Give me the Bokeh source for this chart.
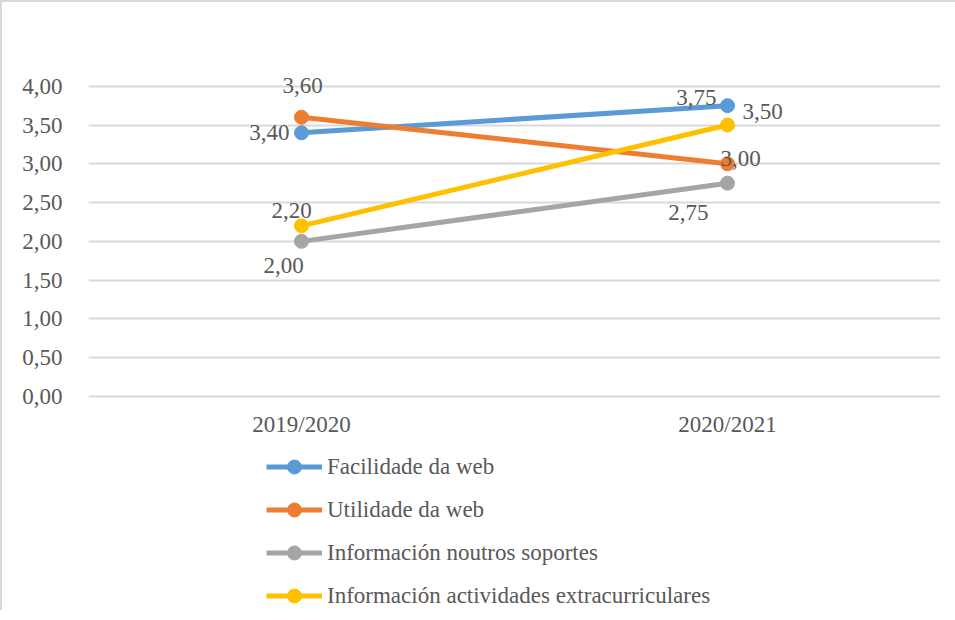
from bokeh.plotting import figure
from bokeh.models import Range1d, FactorRange, FixedTicker, Legend, LegendItem, ColumnDataSource
from bokeh.embed import file_html
from bokeh.resources import INLINE
from bokeh.core.properties import value

years = ["2019/2020", "2020/2021"]
facilidade = [3.40, 3.75]
utilidade = [3.60, 3.00]
noutros = [2.00, 2.75]
extracurriculares = [2.20, 3.50]
series_names = ["Facilidade da web", "Utilidade da web",
                "Información noutros soportes", "Información actividades extracurriculares"]
y_ticks = [0.0, 0.5, 1.0, 1.5, 2.0, 2.5, 3.0, 3.5, 4.0]
y_tick_labels = ["0,00", "0,50", "1,00", "1,50", "2,00", "2,50", "3,00", "3,50", "4,00"]

colors = ["#5B9BD5", "#ED7D31", "#A5A5A5", "#FFC000"]
FONT = "Liberation Serif"
FS = "23px"
TXT = "#595959"

# label placement (pixel offsets) per series, per year
label_style = [
    [dict(x_offset=-12, y_offset=0, align="right"), dict(x_offset=-11, y_offset=-8, align="right")],
    [dict(x_offset=1, y_offset=-32, align="center"), dict(x_offset=13, y_offset=-5, align="center")],
    [dict(x_offset=-18, y_offset=24, align="center"), dict(x_offset=-19, y_offset=29, align="right")],
    [dict(x_offset=-10, y_offset=-15, align="center"), dict(x_offset=15, y_offset=-14, align="left")],
]

# frame spans the whole chart area; the value axis occupies 0..4 of it,
# the legend sits in the lower part below the category axis
p = figure(x_range=FactorRange(*years), y_range=Range1d(-2.76, 4.59),
           frame_width=852, frame_height=570,
           min_border_left=86, min_border_right=15, min_border_top=38, min_border_bottom=0,
           output_backend="svg", toolbar_location=None,
           styles={"border-top": "2px solid #d9d9d9", "border-left": "2px solid #d9d9d9"})
p.outline_line_color = None
p.xgrid.grid_line_color = None
p.ygrid.grid_line_color = "#d9d9d9"
p.ygrid.grid_line_width = 2
p.yaxis.ticker = FixedTicker(ticks=y_ticks)
p.yaxis.major_label_overrides = {t: l for t, l in zip(y_ticks, y_tick_labels)}
for ax in (p.xaxis, p.yaxis):
    ax.axis_line_color = None
    ax.major_tick_line_color = None
    ax.minor_tick_line_color = None
    ax.major_label_text_font = FONT
    ax.major_label_text_font_size = FS
    ax.major_label_text_color = TXT
p.yaxis.major_label_standoff = 20
p.xaxis.major_label_standoff = 10
p.xaxis.fixed_location = 0

items = []
all_series = [facilidade, utilidade, noutros, extracurriculares]
for name, vals, col, styles in zip(series_names, all_series, colors, label_style):
    src = ColumnDataSource(dict(x=years, y=vals))
    r1 = p.line("x", "y", source=src, line_color=col, line_width=5)
    r2 = p.scatter("x", "y", source=src, size=14, fill_color=col, line_color=col)
    items.append(LegendItem(label=name, renderers=[r1, r2]))
    for yr, v, st in zip(years, vals, styles):
        p.text(x=[yr], y=[v], text=[f"{v:.2f}".replace(".", ",")],
               x_offset=st["x_offset"], y_offset=st["y_offset"],
               text_align=st["align"], text_baseline="middle",
               text_font=value(FONT), text_font_size=FS, text_color=TXT)

legend = Legend(items=items, location=(178, -3), orientation="vertical",
                glyph_width=56, glyph_height=35, label_standoff=5,
                label_text_font=FONT, label_text_font_size=FS, label_text_color=TXT,
                spacing=8, padding=0, margin=0, border_line_color=None,
                background_fill_alpha=0)
p.add_layout(legend, "center")

open("out.html", "w").write(file_html(p, INLINE))
